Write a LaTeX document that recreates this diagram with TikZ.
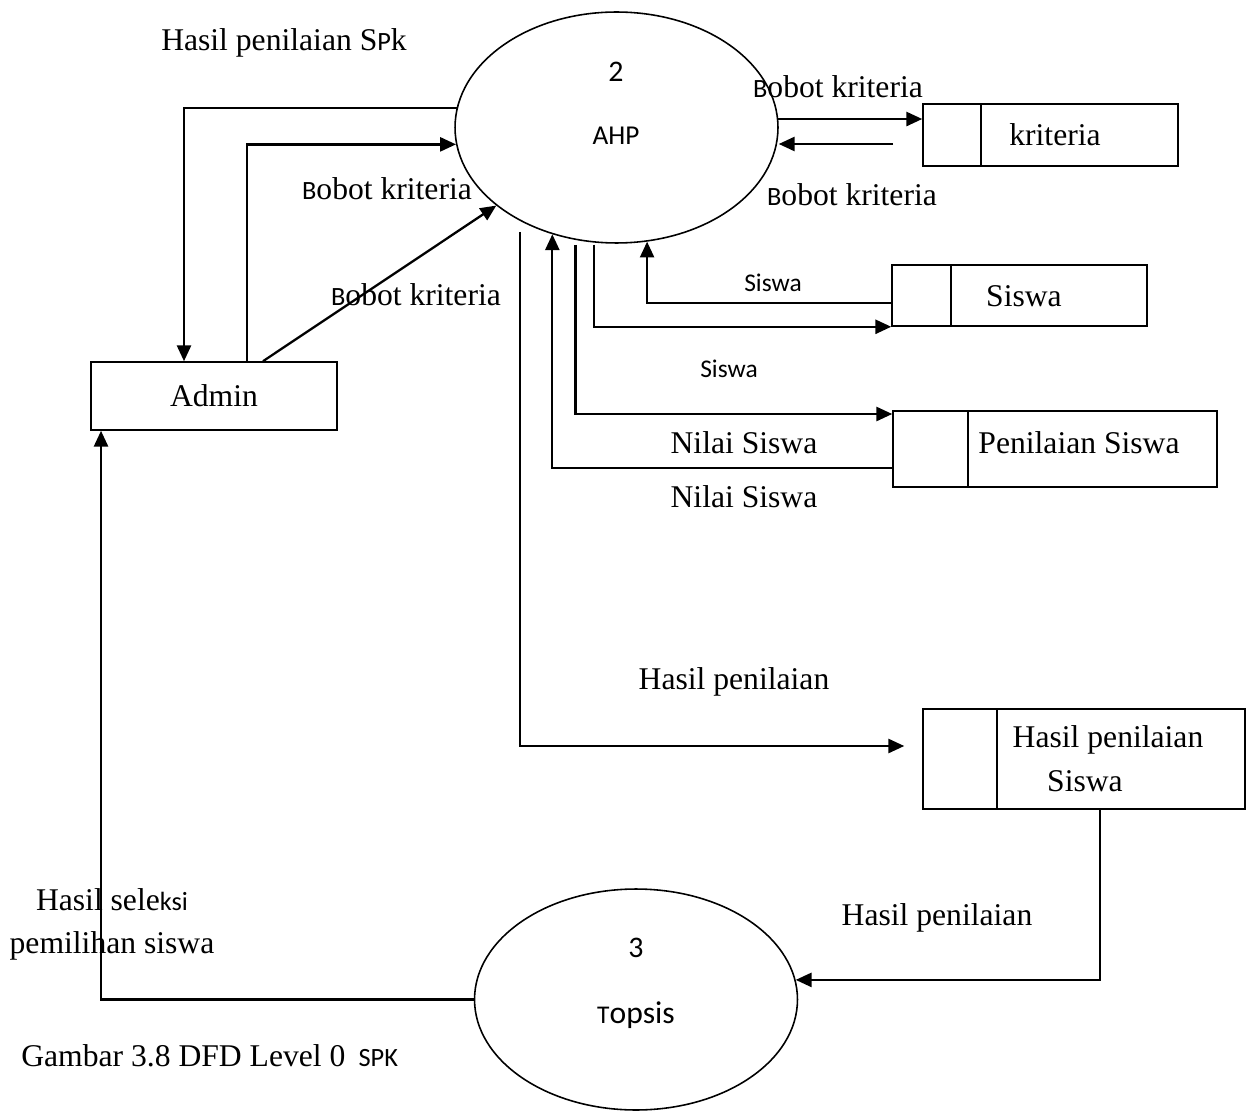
\documentclass[tikz,border=0pt]{standalone}
\usepackage{fontspec}
\setmainfont{Liberation Serif}
\newfontfamily\carl{Carlito}
\usetikzlibrary{arrows.meta,shapes.geometric,calc}

\begin{document}
\begin{tikzpicture}[x=0.02cm,y=-0.02cm,
  proc/.style={draw,ellipse,line width=0.9pt,inner sep=0pt},
  entity/.style={draw,rectangle,line width=0.9pt,inner sep=0pt},
  store/.style={draw,rectangle,line width=0.9pt,inner sep=0pt},
  flow/.style={line width=1.3pt,-{Triangle[length=9pt,width=8pt]}},
  lbl/.style={font=\fontsize{18}{22}\selectfont,inner sep=0pt},
  slbl/.style={font=\carl\fontsize{14.5}{17}\selectfont,inner sep=0pt}]

\useasboundingbox (0,0) rectangle (1247,1111);

% processes
\node[proc,minimum width=6.46cm,minimum height=4.62cm] (ahp) at (616.5,127.5) {};
\node[slbl,font=\carl\fontsize{17}{20}\selectfont] (ahpnum) at (616,72) {2};
\node[slbl,font=\carl\fontsize{15.5}{18}\selectfont] (ahpname) at (616,136) {AHP};

\node[proc,minimum width=6.46cm,minimum height=4.42cm] (topsis) at (636,999.5) {};
\node[slbl,font=\carl\fontsize{17}{20}\selectfont] (topnum) at (636,948) {3};
\node[slbl,font=\carl\fontsize{18}{21}\selectfont] (topname) at (636,1015) {{\fontsize{14.5}{17}\selectfont T}opsis};

% external entity
\node[entity,minimum width=4.92cm,minimum height=1.36cm,font=\fontsize{18}{22}\selectfont] (admin) at (214,396) {Admin};

% data stores
\node[store,minimum width=5.10cm,minimum height=1.24cm] (kriteria) at (1050.5,135) {};
\draw[line width=0.9pt] ([xshift=1.18cm]kriteria.north west) -- ([xshift=1.18cm]kriteria.south west);
\node[lbl] (krtxt) at (1055,135) {kriteria};

\node[store,minimum width=5.10cm,minimum height=1.22cm] (siswa) at (1019.5,295.5) {};
\draw[line width=0.9pt] ([xshift=1.20cm]siswa.north west) -- ([xshift=1.20cm]siswa.south west);
\node[lbl] (swtxt) at (1024,296) {Siswa};

\node[store,minimum width=6.48cm,minimum height=1.52cm] (pen) at (1055,449) {};
\draw[line width=0.9pt] ([xshift=1.52cm]pen.north west) -- ([xshift=1.52cm]pen.south west);
\node[lbl] (pentxt) at (1079,443) {Penilaian Siswa};

\node[store,minimum width=6.44cm,minimum height=2.00cm] (hps) at (1084,759) {};
\draw[line width=0.9pt] ([xshift=1.50cm]hps.north west) -- ([xshift=1.50cm]hps.south west);
\node[lbl] (hpstxt1) at (1108,740) {Hasil penilaian};
\node[lbl] (hpstxt2) at (1085,781) {Siswa};

% flows between admin and AHP
\draw[flow] (ahp.173) -| ([xshift=-0.60cm]admin.north);
\draw[flow] ([xshift=0.66cm]admin.north) |- (ahp.186);
\draw[flow] ([xshift=0.98cm]admin.north) -- (ahp.213);

% flows between AHP and kriteria
\draw[flow] (ahp.3) -- (ahp.3 -| kriteria.west);
\coordinate (krin) at (893,144);
\draw[flow] (krin) -- (krin -| ahp.east);

% flows between AHP and siswa
\draw[flow] ([yshift=-0.15cm]siswa.west) -| (ahp.285);
\draw[flow] ([yshift=-0.04cm]ahp.259) |- (siswa.south west);

% flows between AHP and penilaian siswa
\draw[flow] ([yshift=-0.10cm]ahp.250) |- ([yshift=0.70cm]pen.west);
\draw[flow] ([yshift=-0.38cm]pen.west) -| (ahp.239);

% flow to hasil penilaian siswa
\coordinate (hpin) at ([xshift=-0.36cm,yshift=0.26cm]hps.west);
\draw[flow] ([yshift=-0.22cm]ahp.224) |- (hpin);

% flow from hasil penilaian siswa to topsis
\draw[flow] ([xshift=0.32cm]hps.south) |- (topsis.7);

% flow from topsis to admin
\draw[flow] (topsis.west) -| ([xshift=-2.26cm]admin.south);

% flow labels
\node[lbl] (l1) at (284,43) {Hasil penilaian S{\carl\fontsize{15}{16}\selectfont P}k};
\node[lbl] (l2) at (387,189) {{\carl\fontsize{15}{16}\selectfont B}obot kriteria};
\node[lbl] (l3) at (416,295) {{\carl\fontsize{15}{16}\selectfont B}obot kriteria};
\node[lbl] (l4) at (838,87) {{\carl\fontsize{15}{16}\selectfont B}obot kriteria};
\node[lbl] (l5) at (852,195) {{\carl\fontsize{15}{16}\selectfont B}obot kriteria};
\node[slbl] (l6) at (773,283) {Siswa};
\node[slbl] (l7) at (729,369) {Siswa};
\node[lbl] (l8) at (744,443) {Nilai Siswa};
\node[lbl] (l9) at (744,497) {Nilai Siswa};
\node[lbl] (l10) at (734,682) {Hasil penilaian};
\node[lbl] (l11) at (937,918) {Hasil penilaian};
\node[lbl,align=center,font=\fontsize{18}{24.5}\selectfont] (l12) at (112,924)
  {Hasil sele{\carl\fontsize{15}{16}\selectfont ksi}\\pemilihan siswa};

% caption
\node[lbl,anchor=west] (cap) at (21,1056) {Gambar 3.8 DFD Level 0 \,{\carl\fontsize{15}{17}\selectfont SPK}};
\end{tikzpicture}
\end{document}
